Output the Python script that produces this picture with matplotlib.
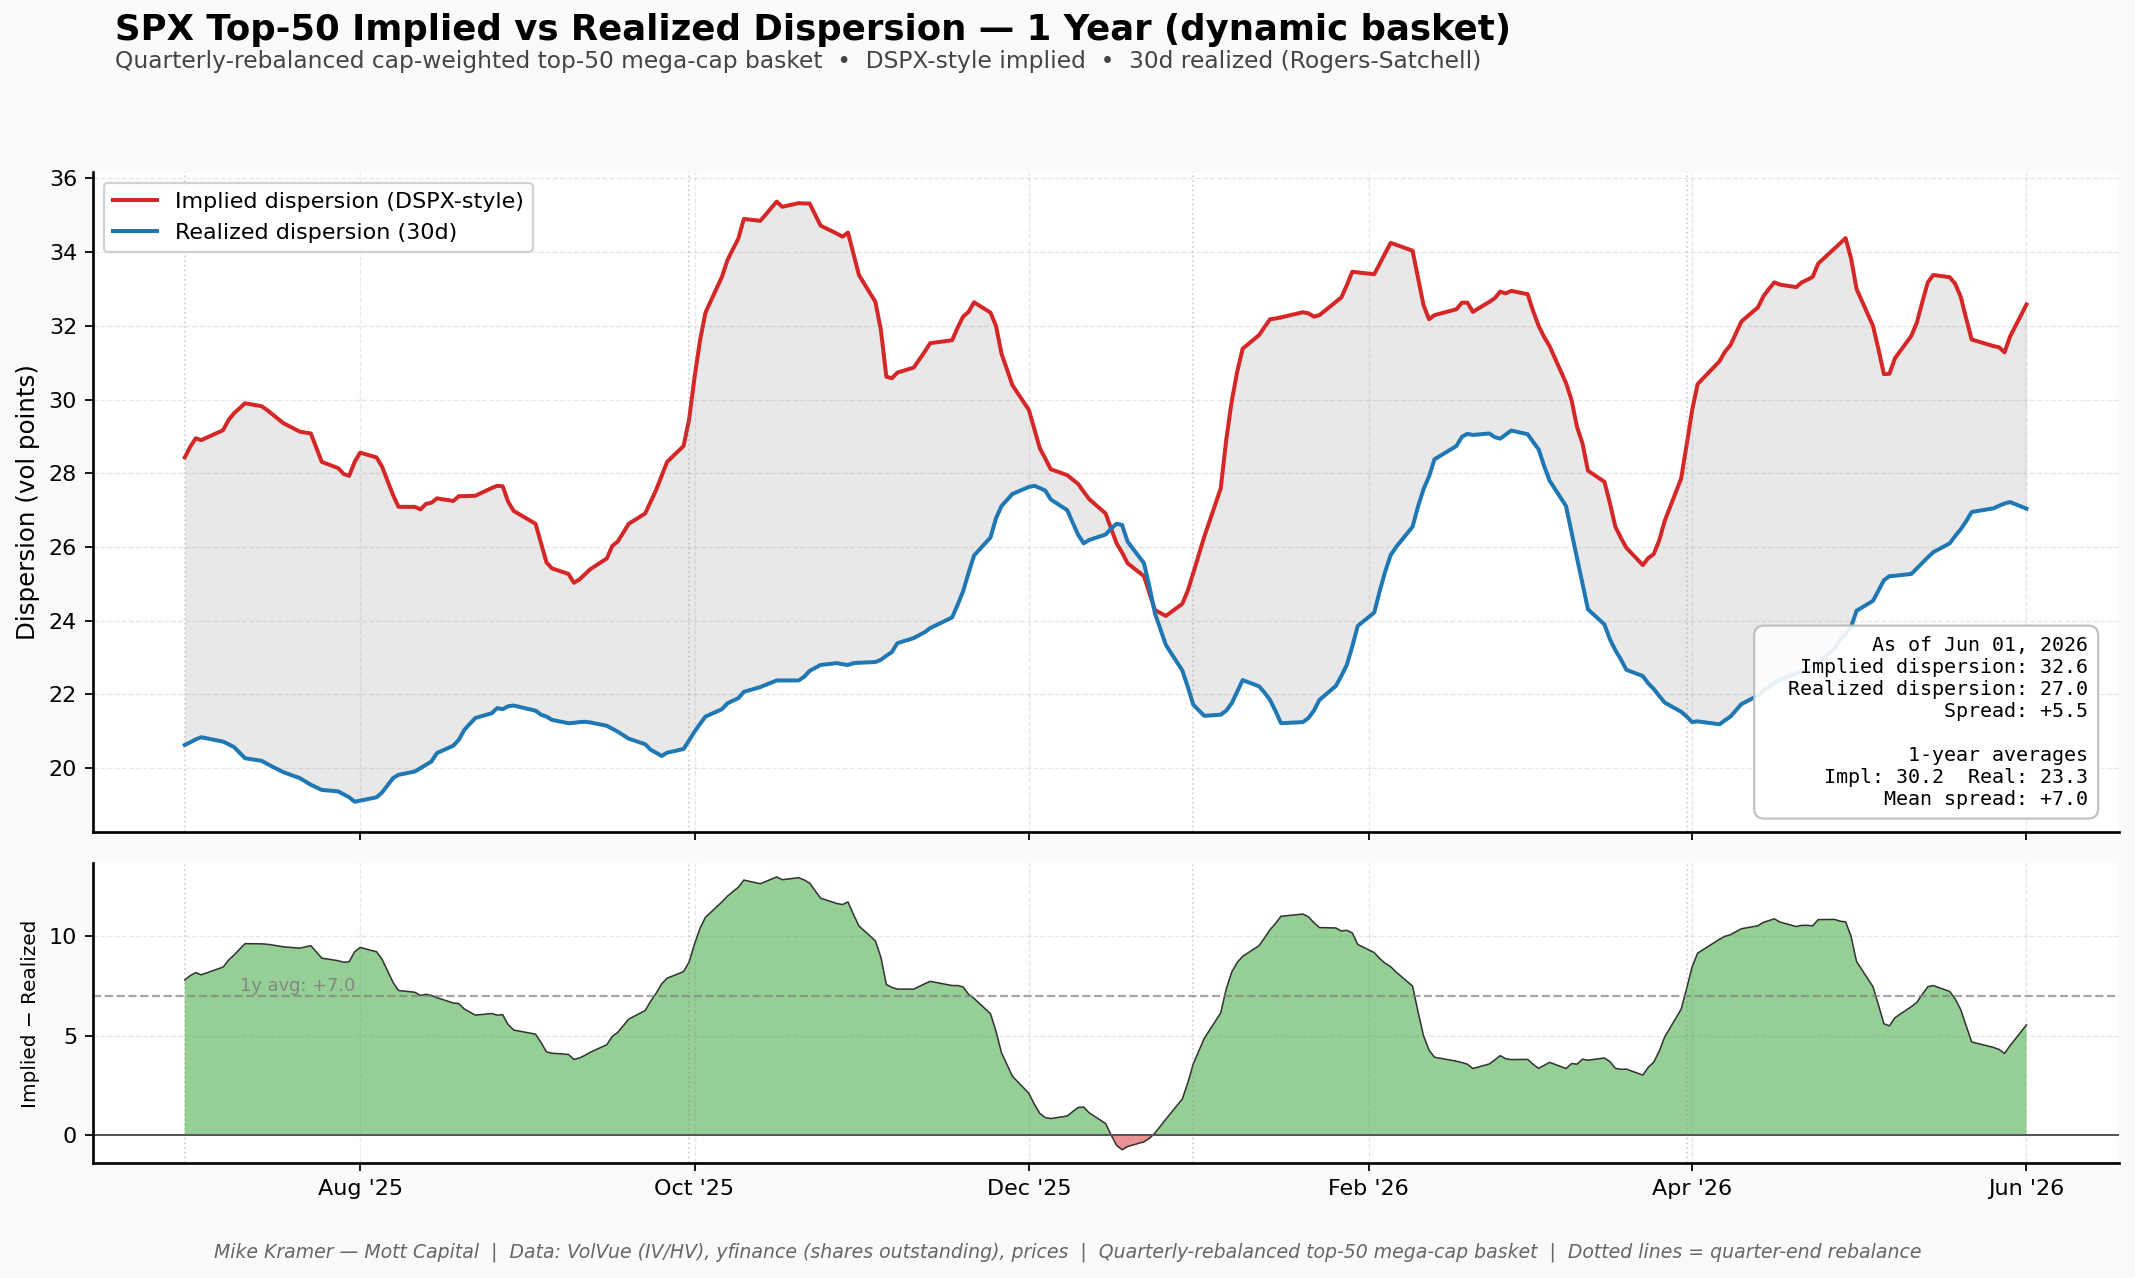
import matplotlib
matplotlib.use("Agg")
import matplotlib.pyplot as plt
import matplotlib.dates as mdates
import numpy as np
import pandas as pd

# calendar-day offsets from the first observation (business days)
start_date = "2025-06-30"
day_offset = [
    0, 1, 2, 3, 7, 8, 9, 11, 14, 15,
    16, 18, 21, 23, 25, 28, 29, 30, 31, 32,
    35, 36, 38, 39, 42, 43, 44, 45, 46, 49,
    50, 51, 53, 56, 57, 58, 59, 60, 64, 65,
    66, 67, 70, 71, 72, 73, 74, 77, 78, 79,
    81, 84, 85, 86, 87, 88, 91, 92, 93, 94,
    95, 98, 99, 100, 101, 102, 105, 106, 107, 108,
    109, 112, 113, 114, 116, 119, 120, 121, 122, 123,
    126, 127, 128, 129, 130, 133, 135, 136, 140, 141,
    142, 143, 144, 147, 148, 149, 151, 154, 155, 156,
    157, 158, 161, 162, 163, 164, 165, 168, 169, 170,
    171, 172, 175, 176, 177, 179, 182, 183, 184, 186,
    189, 190, 191, 192, 193, 196, 197, 198, 199, 200,
    204, 205, 206, 207, 210, 211, 212, 213, 214, 217,
    218, 219, 220, 221, 224, 225, 226, 227, 228, 232,
    233, 234, 235, 238, 239, 240, 241, 242, 245, 246,
    247, 248, 249, 252, 253, 254, 255, 256, 259, 260,
    261, 262, 263, 266, 267, 268, 269, 270, 273, 274,
    275, 276, 280, 281, 282, 283, 284, 287, 288, 289,
    290, 291, 294, 295, 296, 297, 298, 301, 302, 303,
    304, 305, 308, 309, 310, 311, 312, 315, 316, 317,
    318, 319, 322, 323, 324, 325, 326, 330, 331, 332,
    333, 336,
]
implied = [
    28.43, 28.72, 28.95, 28.90, 29.17, 29.45, 29.63, 29.90, 29.82, 29.72,
    29.60, 29.36, 29.13, 29.08, 28.31, 28.14, 27.98, 27.93, 28.31, 28.56,
    28.43, 28.18, 27.41, 27.09, 27.09, 27.02, 27.17, 27.20, 27.32, 27.25,
    27.38, 27.38, 27.39, 27.60, 27.66, 27.65, 27.23, 26.98, 26.63, 26.10,
    25.58, 25.42, 25.27, 25.03, 25.12, 25.26, 25.40, 25.69, 26.03, 26.15,
    26.63, 26.91, 27.23, 27.55, 27.93, 28.31, 28.74, 29.45, 30.60, 31.60,
    32.36, 33.33, 33.78, 34.08, 34.37, 34.90, 34.85, 35.02, 35.20, 35.37,
    35.23, 35.33, 35.32, 35.32, 34.72, 34.50, 34.42, 34.53, 33.95, 33.38,
    32.65, 31.89, 30.62, 30.58, 30.73, 30.87, 31.30, 31.53, 31.61, 31.95,
    32.25, 32.38, 32.64, 32.36, 32.00, 31.25, 30.39, 29.72, 29.20, 28.68,
    28.40, 28.11, 27.95, 27.83, 27.71, 27.50, 27.30, 26.91, 26.50, 26.10,
    25.85, 25.56, 25.21, 24.75, 24.29, 24.13, 24.46, 24.82, 25.30, 26.28,
    27.59, 28.90, 29.95, 30.75, 31.38, 31.75, 31.97, 32.18, 32.20, 32.23,
    32.37, 32.34, 32.25, 32.29, 32.65, 32.77, 33.10, 33.47, 33.45, 33.40,
    33.68, 33.97, 34.25, 34.20, 34.04, 33.30, 32.56, 32.18, 32.29, 32.45,
    32.63, 32.63, 32.38, 32.65, 32.75, 32.93, 32.88, 32.95, 32.86, 32.40,
    32.00, 31.70, 31.45, 30.45, 29.99, 29.26, 28.81, 28.07, 27.77, 27.19,
    26.55, 26.25, 25.98, 25.51, 25.70, 25.81, 26.18, 26.71, 27.86, 28.77,
    29.71, 30.42, 31.04, 31.30, 31.48, 31.80, 32.12, 32.50, 32.80, 33.00,
    33.18, 33.12, 33.05, 33.18, 33.25, 33.33, 33.69, 34.10, 34.24, 34.38,
    33.83, 33.00, 32.00, 31.36, 30.69, 30.70, 31.12, 31.73, 32.09, 32.65,
    33.18, 33.38, 33.32, 33.14, 32.79, 32.20, 31.63, 31.45, 31.42, 31.28,
    31.71, 32.58,
]
realized = [
    20.63, 20.70, 20.78, 20.84, 20.72, 20.65, 20.57, 20.27, 20.20, 20.12,
    20.04, 19.89, 19.73, 19.55, 19.41, 19.37, 19.29, 19.21, 19.09, 19.12,
    19.21, 19.34, 19.73, 19.82, 19.91, 20.00, 20.09, 20.18, 20.41, 20.61,
    20.77, 21.04, 21.36, 21.49, 21.63, 21.60, 21.68, 21.70, 21.56, 21.45,
    21.40, 21.31, 21.22, 21.23, 21.25, 21.26, 21.24, 21.15, 21.07, 20.99,
    20.80, 20.65, 20.50, 20.42, 20.33, 20.42, 20.52, 20.75, 20.99, 21.20,
    21.40, 21.60, 21.76, 21.83, 21.90, 22.07, 22.20, 22.26, 22.32, 22.38,
    22.38, 22.38, 22.48, 22.64, 22.80, 22.85, 22.82, 22.80, 22.85, 22.86,
    22.88, 22.94, 23.05, 23.15, 23.39, 23.53, 23.69, 23.80, 24.09, 24.43,
    24.80, 25.30, 25.77, 26.26, 26.78, 27.11, 27.44, 27.63, 27.66, 27.60,
    27.53, 27.29, 27.00, 26.66, 26.33, 26.10, 26.19, 26.34, 26.50, 26.63,
    26.60, 26.15, 25.56, 24.92, 24.20, 23.34, 22.65, 22.20, 21.72, 21.42,
    21.45, 21.56, 21.76, 22.07, 22.39, 22.22, 22.05, 21.85, 21.55, 21.22,
    21.25, 21.36, 21.56, 21.85, 22.23, 22.50, 22.80, 23.30, 23.86, 24.22,
    24.80, 25.33, 25.78, 26.00, 26.55, 27.10, 27.57, 27.91, 28.38, 28.74,
    28.99, 29.07, 29.04, 29.08, 28.98, 28.94, 29.05, 29.16, 29.06, 28.85,
    28.65, 28.20, 27.80, 27.11, 26.40, 25.70, 25.00, 24.31, 23.90, 23.50,
    23.20, 22.95, 22.67, 22.50, 22.30, 22.15, 21.96, 21.78, 21.53, 21.40,
    21.25, 21.27, 21.19, 21.30, 21.40, 21.57, 21.74, 21.97, 22.10, 22.21,
    22.30, 22.40, 22.56, 22.63, 22.70, 22.80, 22.85, 23.25, 23.48, 23.65,
    23.83, 24.27, 24.54, 24.82, 25.10, 25.21, 25.22, 25.27, 25.42, 25.57,
    25.72, 25.86, 26.10, 26.30, 26.48, 26.70, 26.95, 27.05, 27.12, 27.18,
    27.22, 27.04,
]
rebalance_dates = ["2025-06-30", "2025-09-30", "2025-12-31", "2026-03-31"]
avg_impl = 30.2
avg_real = 23.3
avg_spread = 7.0
as_of = "Jun 01, 2026"


def make_chart():
    dates = pd.Timestamp(start_date) + pd.to_timedelta(day_offset, unit="D")
    impl = np.array(implied)
    real = np.array(realized)
    spread = impl - real

    fig = plt.figure(figsize=(2135 / 160, 1278 / 160), dpi=160, facecolor="#fafafa")
    ax1 = fig.add_axes([0.0434, 0.3492, 0.9489, 0.5165])
    ax2 = fig.add_axes([0.0434, 0.0897, 0.9489, 0.2348], sharex=ax1)

    # top panel: implied vs realized
    ax1.fill_between(dates, impl, real, color="gray", alpha=0.18, linewidth=0)
    ax1.plot(dates, impl, color="#d62728", linewidth=1.8, label="Implied dispersion (DSPX-style)")
    ax1.plot(dates, real, color="#1f77b4", linewidth=1.8, label="Realized dispersion (30d)")
    ax1.set_ylabel("Dispersion (vol points)", fontsize=11)
    ax1.legend(loc="upper left", fontsize=10, framealpha=0.9)

    info = (f"As of {as_of}\n"
            f"Implied dispersion: {impl[-1]:.1f}\n"
            f"Realized dispersion: {real[-1]:.1f}\n"
            f"Spread: {spread[-1]:+.1f}\n"
            + " " * 27 + "\n"
            f"1-year averages\n"
            f"Impl: {avg_impl:.1f}  Real: {avg_real:.1f}\n"
            f"Mean spread: {avg_spread:+.1f}")
    ax1.text(0.985, 0.035, info, transform=ax1.transAxes, ha="right", va="bottom",
             multialignment="right", family="DejaVu Sans Mono", fontsize=9, zorder=5,
             bbox=dict(boxstyle="round,pad=0.5", facecolor="white", edgecolor="#bbbbbb", alpha=0.9))

    # bottom panel: spread
    ax2.fill_between(dates, spread, 0, where=spread >= 0, interpolate=True,
                     color="#2ca02c", alpha=0.5, linewidth=0)
    ax2.fill_between(dates, spread, 0, where=spread < 0, interpolate=True,
                     color="#d62728", alpha=0.5, linewidth=0)
    ax2.plot(dates, spread, color="#333333", linewidth=0.7)
    ax2.axhline(0, color="#555555", linewidth=0.9)
    ax2.axhline(avg_spread, color="gray", linestyle="--", linewidth=1.0, alpha=0.7)
    ax2.text(pd.Timestamp("2025-07-10"), avg_spread + 0.05, f"1y avg: {avg_spread:+.1f}",
             color="gray", fontsize=8, va="bottom", alpha=0.9)
    ax2.set_ylabel("Implied \u2212 Realized", fontsize=9)

    for ax in (ax1, ax2):
        ax.set_facecolor("white")
        ax.grid(True, linestyle="--", linewidth=0.6, alpha=0.3)
        ax.set_axisbelow(True)
        for rd in rebalance_dates:
            ax.axvline(pd.Timestamp(rd), color="gray", linestyle=":", linewidth=0.8, alpha=0.35)
        ax.spines["top"].set_visible(False)
        ax.spines["right"].set_visible(False)
        ax.spines["left"].set_linewidth(1.2)
        ax.spines["bottom"].set_linewidth(1.2)
        ax.tick_params(labelsize=10)

    ax2.xaxis.set_major_locator(mdates.MonthLocator(bymonth=[2, 4, 6, 8, 10, 12]))
    ax2.xaxis.set_major_formatter(mdates.DateFormatter("%b '%y"))
    ax1.tick_params(labelbottom=False)

    fig.text(0.054, 0.99, "SPX Top-50 Implied vs Realized Dispersion \u2014 1 Year (dynamic basket)",
             fontsize=16, fontweight="bold", va="top")
    fig.text(0.054, 0.961, "Quarterly-rebalanced cap-weighted top-50 mega-cap basket  \u2022  "
             "DSPX-style implied  \u2022  30d realized (Rogers-Satchell)",
             fontsize=10.5, color="#444444", va="top")
    fig.text(0.5, 0.02, "Mike Kramer \u2014 Mott Capital  |  Data: VolVue (IV/HV), yfinance (shares outstanding), "
             "prices  |  Quarterly-rebalanced top-50 mega-cap basket  |  Dotted lines = quarter-end rebalance",
             ha="center", va="center", fontsize=8.5, style="italic", color="#666666")

    fig.savefig("out.png", dpi=160, facecolor=fig.get_facecolor())


if __name__ == "__main__":
    make_chart()
